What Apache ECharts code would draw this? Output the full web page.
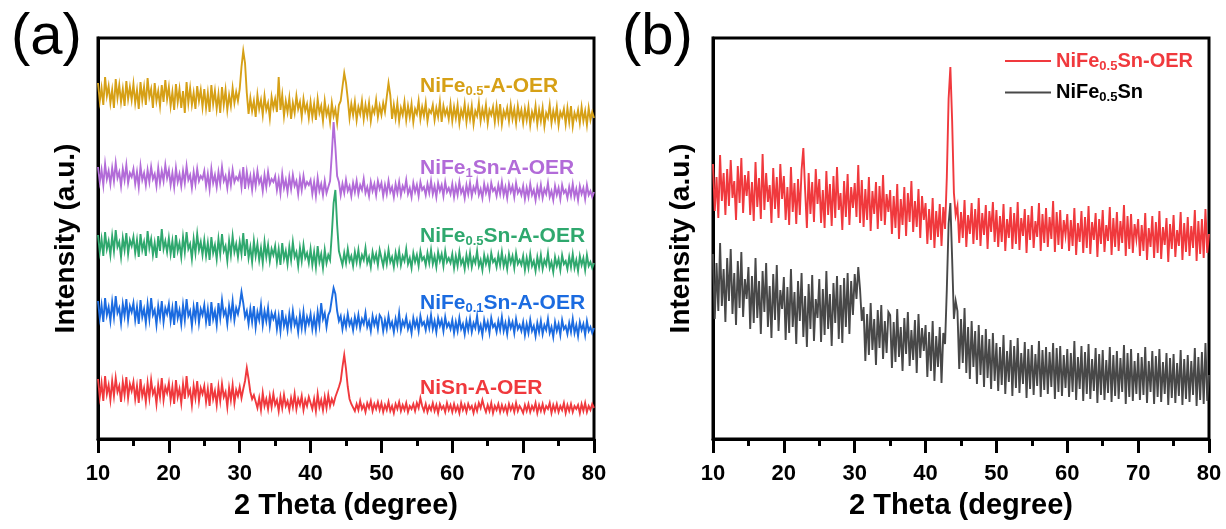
<!DOCTYPE html>
<html><head><meta charset="utf-8">
<script src="https://cdn.jsdelivr.net/npm/echarts@6/dist/echarts.min.js"></script>
<style>html,body{margin:0;padding:0;background:#fff}#c{width:1226px;height:529px}</style>
</head><body><div id="c"></div>
<script>
// 2-theta sampling grid (degrees)
const THETA_START = 10;
const THETA_STEP = 0.25;
const X_TICKS = [10, 20, 30, 40, 50, 60, 70, 80];

// Panel (a) intensities (arbitrary units, stacked offsets as drawn)
const niFe05_A_OER = [
356,338,351,334,362,343,353,336,349,331,360,341,354,337,350,333,358,340,352,339,
355,336,349,330,357,339,352,334,361,342,350,331,356,338,348,333,354,337,359,340,
352,333,347,329,355,337,350,331,348,326,357,336,351,334,346,330,353,338,349,332,
350,331,346,327,354,335,348,330,345,326,352,334,349,329,344,333,351,336,347,338,
350,372,388,376,
346,
325,341,328,338,322,344,330,339,324,343,329,336,321,342,331,
340,327,362,329,344,323,338,327,341,320,336,326,343,330,337,322,340,328,335,321,
337,322,335,319,340,326,333,318,338,324,331,317,336,323,330,316,334,
338,352,366,356,340,
321,335,324,337,319,332,325,338,320,334,323,336,318,331,326,339,322,333,
324,336,327,
342,356,344,
320,334,321,336,318,331,324,337,319,333,322,335,317,330,325,338,320,332,323,336,318,329,326,334,319,331,322,337,317,333,324,330,320,335,
318,332,321,334,316,329,322,335,317,331,320,333,315,328,323,336,318,330,321,334,316,329,324,332,317,333,319,335,315,328,322,331,318,334,320,330,316,333,321,329,
316,330,319,332,314,327,320,333,315,329,318,331,313,326,321,334,316,328,319,332,314,327,322,330,315,331,317,333,313,326,320,329,316,332,318,328,314,331,319,327,321
];
const niFe1Sn_A_OER = [
272,257,269,254,275,260,268,255,271,258,276,261,267,253,270,259,274,256,266,262,
270,255,267,252,273,259,266,254,269,257,272,260,265,253,271,256,268,258,274,261,
269,254,266,252,271,257,265,253,268,256,273,259,264,251,267,255,270,258,263,260,
268,253,265,250,270,256,264,252,267,255,272,258,263,251,266,254,269,257,262,259,
266,252,272,250,267,254,263,249,265,253,268,256,261,248,264,252,267,255,260,257,
263,249,260,246,265,251,259,247,262,250,264,253,258,245,261,249,263,252,257,254,
259,245,257,243,261,248,255,244,258,246,252,
258,285,317,292,263,
257,244,255,246,259,248,253,243,256,247,258,245,254,249,260,246,252,243,257,248,255,244,258,250,
256,243,254,245,258,247,252,242,255,246,257,244,253,248,259,245,251,242,256,247,254,243,257,249,252,244,255,246,258,245,253,242,256,248,254,243,257,247,251,245,
255,242,253,244,257,246,251,241,254,245,256,243,252,247,258,244,250,241,255,246,253,242,256,248,251,243,254,245,257,244,252,241,255,247,253,242,256,246,250,244,
253,240,251,242,255,244,249,239,252,243,254,241,250,245,256,242,248,239,253,244,251,240,254,246,249,241,252,243,255,242,250,239,253,245,251,240,254,244,248,242,247
];
const niFe05Sn_A_OER = [
204,187,200,183,207,190,198,184,203,188,209,192,197,182,201,189,206,185,199,193,
202,186,199,182,205,189,197,183,208,191,200,184,196,181,203,188,210,190,198,187,
201,185,198,181,204,188,196,182,202,187,207,190,195,180,200,186,205,189,197,184,
199,183,196,179,202,186,194,180,200,185,205,188,193,178,198,184,203,187,195,182,
197,185,206,183,200,181,192,177,198,183,195,179,191,176,197,182,194,178,190,184,
193,177,190,174,196,180,188,175,192,179,197,182,187,173,191,178,194,181,186,176,
190,174,187,172,193,177,185,171,189,176,184,179,
205,236,249,214,188,
188,174,186,176,190,178,183,173,187,177,189,175,184,179,191,176,182,172,187,178,185,174,189,
187,173,185,175,189,177,182,172,186,176,188,174,183,178,190,175,181,171,186,177,184,173,188,179,182,174,186,176,189,175,183,172,187,178,185,173,188,177,181,176,
185,171,183,173,187,175,180,170,184,174,186,172,181,176,188,173,179,169,184,175,182,171,186,177,180,172,184,174,187,173,181,170,185,176,183,171,186,175,179,174,
183,169,181,171,185,173,178,168,182,172,184,170,179,174,186,171,177,167,182,173,180,169,184,175,178,170,182,172,185,171,179,168,183,174,181,169,184,173,177,171,176
];
const niFe01Sn_A_OER = [
138,121,134,117,141,124,132,118,137,122,143,126,131,116,135,123,140,119,133,127,
136,119,132,115,139,122,130,116,135,120,141,124,129,114,133,121,138,117,131,125,
135,118,131,114,138,121,129,115,134,119,140,123,128,113,132,120,137,116,130,124,
134,117,130,113,137,120,128,114,136,121,139,124,129,115,133,122,138,119,131,125,
134,147,136,122,128,
115,130,117,133,112,127,119,134,114,128,118,131,113,126,120,
126,110,123,108,129,113,121,109,125,112,128,114,120,107,124,111,127,110,122,115,
125,110,122,109,127,114,
136,120,
126,112,124,128,
140,151,145,128,118,
123,110,121,112,125,114,119,109,122,113,124,111,120,115,126,112,118,108,123,114,121,110,124,
121,108,119,110,123,112,117,107,120,111,126,109,118,113,122,110,116,106,121,112,119,108,123,114,117,109,120,111,124,110,118,107,121,113,119,108,122,112,116,110,
119,106,117,108,121,110,115,105,118,109,120,107,116,111,123,108,114,104,119,110,117,106,121,112,115,107,118,109,122,108,116,105,119,111,117,106,120,110,114,108,
117,104,115,106,119,108,113,103,116,107,118,105,114,109,120,106,112,102,117,108,115,104,119,110,113,105,116,107,120,106,114,103,117,109,115,104,118,108,112,106,111
];
const niSn_A_OER = [
60,42,56,38,63,45,54,39,58,43,61,47,53,37,57,44,62,41,55,48,
57,40,53,36,60,43,51,37,56,41,59,45,50,35,54,42,61,39,52,46,
56,39,52,35,59,42,50,36,55,40,63,44,49,34,53,41,58,38,51,45,
53,37,50,33,56,40,48,34,52,38,55,42,47,32,51,39,54,36,49,43,
52,41,50,58,71,60,47,40,44,
44,31,41,29,46,33,40,30,43,32,45,34,39,28,42,31,44,33,38,29,41,32,45,30,40,34,43,29,39,33,42,
43,30,40,28,45,32,39,29,42,31,44,33,40,35,
42,47,52,58,72,84,70,52,40,35,
37,28,35,29,38,30,34,27,36,31,38,28,35,30,37,29,
36,27,34,29,37,28,33,26,35,30,37,28,34,29,36,27,33,30,35,28,36,31,
41,33,
28,35,27,33,29,36,28,34,26,35,30,33,27,36,29,34,
27,35,28,33,26,36,29,34,27,35,30,33,26,34,28,36,31,
39,32,
27,34,28,36,26,33,29,35,27,34,28,33,26,35,29,34,27,36,28,33,30,
26,34,28,35,27,33,29,36,26,34,28,35,27,33,30,36,26,34,28,35,27,33,29,36,26,34,28,35,27,33,30,34,26,35,28,36,27,33,29,35,31
];

// Panel (b) intensities
const niFe05Sn_OER = [
275,228,262,221,284,238,266,224,270,233,279,241,258,219,273,236,281,226,264,243,
268,224,257,218,277,232,261,220,285,229,266,237,254,216,271,230,262,221,275,240,
263,219,252,214,272,227,256,215,260,224,269,291,249,211,266,225,257,217,270,235,
260,216,249,211,268,224,255,213,263,221,272,229,246,209,258,222,265,214,252,231,
256,222,274,216,259,212,250,219,262,208,248,225,257,210,253,218,264,214,245,227,
249,205,243,211,255,200,240,214,252,203,246,217,258,207,238,212,250,201,243,219,
236,195,230,199,241,191,228,202,235,193,232,210,
262,340,372,318,246,224,
233,196,227,201,239,192,224,205,236,195,230,199,241,193,226,204,234,190,228,207,237,197,
229,192,223,197,235,188,220,201,232,190,226,195,237,189,221,203,230,186,224,199,233,191,218,202,236,188,225,196,231,192,222,200,238,187,227,194,229,190,219,204,
225,188,219,193,231,184,216,197,228,186,222,191,233,185,217,199,226,182,220,195,229,187,214,198,232,184,221,192,227,188,218,196,234,183,223,190,225,186,215,200,
220,183,214,188,226,179,211,192,223,181,217,186,228,180,212,194,221,177,215,190,224,182,209,193,227,179,216,187,222,183,213,191,229,178,218,185,220,181,230,186,205
];
const niFe05Sn = [
185,120,176,128,196,133,170,117,181,138,190,125,166,114,178,131,187,122,160,140,
172,110,163,116,181,121,158,105,168,127,176,112,153,101,165,119,174,108,149,130,
162,99,152,106,170,112,147,95,158,118,166,102,143,92,155,110,164,98,140,121,
160,97,150,104,168,110,145,93,156,116,163,100,154,96,161,112,166,105,158,124,
165,140,172,150,118,
132,78,125,84,136,89,120,74,129,91,134,80,118,86,127,
124,71,117,77,130,82,112,68,121,85,127,73,109,79,119,66,125,81,111,88,
114,62,107,68,118,58,103,72,112,56,106,95,
150,215,236,180,120,138,
128,70,120,76,131,66,112,60,118,72,108,55,114,64,104,52,110,61,100,50,106,58,
96,48,92,54,104,45,88,57,99,43,93,51,101,46,86,55,97,41,90,50,94,44,85,53,98,42,89,49,92,45,87,52,96,40,91,47,93,43,84,51,
90,42,86,47,98,39,82,50,93,38,87,45,95,40,80,48,91,36,85,44,89,39,79,46,92,37,84,43,88,40,81,47,94,35,86,42,90,38,78,45,
86,39,82,44,92,36,78,47,88,35,83,42,90,37,77,45,86,34,81,41,85,36,76,43,89,34,80,40,84,37,78,44,91,33,82,39,87,35,96,38,64
];

const NAMES_A = ['NiFe0.5-A-OER','NiFe1Sn-A-OER','NiFe0.5Sn-A-OER','NiFe0.1Sn-A-OER','NiSn-A-OER'];
const NAMES_B = ['NiFe0.5Sn-OER','NiFe0.5Sn'];

const COLORS = {
  gold:'#D6A016', purple:'#B26BD8', green:'#2FA86E', blue:'#1B6BE0', red:'#F0393D', grey:'#484848'
};
const FONT = '"Liberation Sans", Arial, Helvetica, sans-serif';

function pairs(arr){ return arr.map((v,i)=>[THETA_START + i*THETA_STEP, v]); }

const chart = echarts.init(document.getElementById('c'), null, {renderer:'canvas'});

function xAxisCfg(gi){
  return {
    gridIndex: gi, type:'value', min:10, max:80, interval:10,
    name:'2 Theta (degree)', nameLocation:'middle', nameGap:52,
    nameTextStyle:{fontSize:29, fontWeight:'bold', color:'#000', fontFamily:FONT},
    axisLine:{show:true, onZero:false, lineStyle:{color:'#000', width:3}},
    axisTick:{show:true, inside:false, length:14, lineStyle:{width:3, color:'#000'}},
    minorTick:{show:true, splitNumber:2, length:7, lineStyle:{width:3, color:'#000'}},
    axisLabel:{margin:24, fontSize:22, fontWeight:'bold', color:'#000', fontFamily:FONT,
      formatter: v => X_TICKS.includes(v) ? String(v) : ''},
    splitLine:{show:false}
  };
}
function yAxisCfg(gi){
  return {
    gridIndex: gi, type:'value', min:0, max:401,
    name:'Intensity (a.u.)', nameLocation:'middle', nameGap:18,
    nameTextStyle:{fontSize:28, fontWeight:'bold', color:'#000', fontFamily:FONT},
    axisLine:{show:true, lineStyle:{color:'#000', width:3}},
    axisTick:{show:false}, axisLabel:{show:false}, splitLine:{show:false}
  };
}
function lineSeries(name, arr, color, gi, z){
  return {
    name, type:'line', xAxisIndex:gi, yAxisIndex:gi, data:pairs(arr),
    showSymbol:false, symbol:'none', smooth:false, z: z,
    lineStyle:{color, width:1.9, join:'miter'}, itemStyle:{color}, animation:false, silent:true
  };
}

const sub = {fontSize:13, fontWeight:'bold', fontFamily:FONT, padding:[10,0,0,0]};
function richLabel(x, y, parts, color){
  const rich = {n:{fontSize:21, fontWeight:'bold', fontFamily:FONT, fill:color},
                s:Object.assign({}, sub, {fill:color})};
  return {type:'text', left:x, top:y, silent:true,
    style:{text:parts, rich, fill:color, font:'bold 21px '+FONT}};
}

const option = {
  animation:false,
  backgroundColor:'#fff',
  title:[
    {text:'(a)', left:6, top:4, textStyle:{fontSize:58, fontWeight:'normal', color:'#000', fontFamily:FONT}},
    {text:'(b)', left:617, top:4, textStyle:{fontSize:58, fontWeight:'normal', color:'#000', fontFamily:FONT}}
  ],
  grid:[
    {left:98, top:38, width:496, height:401, show:true, borderColor:'#000', borderWidth:3, backgroundColor:'transparent'},
    {left:713, top:38, width:496, height:401, show:true, borderColor:'#000', borderWidth:3, backgroundColor:'transparent'}
  ],
  xAxis:[xAxisCfg(0), xAxisCfg(1)],
  yAxis:[yAxisCfg(0), yAxisCfg(1)],
  legend:{
    show:true, orient:'vertical', left:1000, top:46, itemWidth:46, itemHeight:12, itemGap:10,
    icon:'path://M0,5 L46,5 L46,7 L0,7 Z',
    data:[
      {name:NAMES_B[0], textStyle:{color:COLORS.red}},
      {name:NAMES_B[1], textStyle:{color:'#000'}}
    ],
    textStyle:{fontSize:20, fontWeight:'bold', fontFamily:FONT,
      rich:{s:{fontSize:13, fontWeight:'bold', fontFamily:FONT, padding:[10,0,0,0]}}},
    formatter: n => n.replace('0.5', '{s|0.5}')
  },
  series:[
    lineSeries(NAMES_A[0], niFe05_A_OER, COLORS.gold, 0, 2),
    lineSeries(NAMES_A[1], niFe1Sn_A_OER, COLORS.purple, 0, 2),
    lineSeries(NAMES_A[2], niFe05Sn_A_OER, COLORS.green, 0, 2),
    lineSeries(NAMES_A[3], niFe01Sn_A_OER, COLORS.blue, 0, 2),
    lineSeries(NAMES_A[4], niSn_A_OER, COLORS.red, 0, 2),
    lineSeries(NAMES_B[0], niFe05Sn_OER, COLORS.red, 1, 2),
    lineSeries(NAMES_B[1], niFe05Sn, COLORS.grey, 1, 3)
  ],
  graphic:[
    richLabel(420, 76,  '{n|NiFe}{s|0.5}{n|-A-OER}', COLORS.gold),
    richLabel(420, 158, '{n|NiFe}{s|1}{n|Sn-A-OER}', COLORS.purple),
    richLabel(420, 226, '{n|NiFe}{s|0.5}{n|Sn-A-OER}', COLORS.green),
    richLabel(420, 293, '{n|NiFe}{s|0.1}{n|Sn-A-OER}', COLORS.blue),
    richLabel(420, 378, '{n|NiSn-A-OER}', COLORS.red)
  ]
};
chart.setOption(option);
</script>
</body></html>
